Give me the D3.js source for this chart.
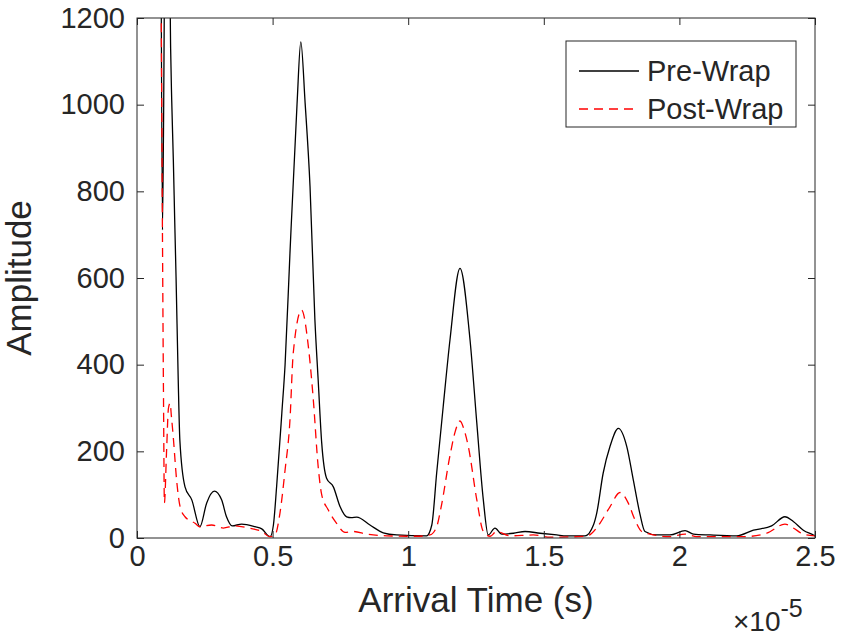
<!DOCTYPE html>
<html lang="en">
<head>
<meta charset="utf-8">
<title>Pre-Wrap vs Post-Wrap</title>
<script src="https://d3js.org/d3.v7.min.js"></script>
<style>
  body { margin: 0; background: #fff; }
  svg text { font-family: "Liberation Sans", Arial, Helvetica, sans-serif; fill: #262626; }
</style>
</head>
<body>
<script>
// arrival time in units of 1e-5 s, amplitude
var preTime = [0.088, 0.094, 0.105, 0.118, 0.124, 0.128, 0.134, 0.139, 0.144, 0.152, 0.158, 0.177,
  0.202, 0.232, 0.257, 0.285, 0.312, 0.330, 0.351, 0.386, 0.435, 0.460, 0.491, 0.503, 0.515, 0.534,
  0.546, 0.564, 0.590, 0.604, 0.620, 0.638, 0.656, 0.668, 0.681, 0.699, 0.724, 0.749, 0.773, 0.790,
  0.810, 0.859, 0.908, 0.957, 1.068, 1.087, 1.105, 1.129, 1.154, 1.191, 1.228, 1.253, 1.277, 1.295,
  1.320, 1.345, 1.388, 1.431, 1.486, 1.548, 1.584, 1.652, 1.683, 1.695, 1.719, 1.744, 1.775, 1.806,
  1.830, 1.854, 1.873, 1.916, 1.965, 2.021, 2.052, 2.113, 2.211, 2.273, 2.340, 2.389, 2.420, 2.457,
  2.494, 2.500];
var preWrap = [1500, 711, 1500, 1500, 1130, 1010, 872, 734, 602, 365, 226, 118,
  88, 26, 81, 108, 88, 49, 28, 32, 26, 21, 3, 30, 120, 288,
  400, 657, 1000, 1145, 1003, 811, 503, 365, 220, 138, 118, 72, 49, 47,
  48, 30, 12, 7, 5, 30, 150, 303, 457, 622, 457, 265, 88, 7,
  23, 9, 11, 15, 11, 7, 5, 5, 30, 57, 150, 211, 253, 211,
  134, 57, 15, 7, 7, 17, 9, 7, 5, 18, 28, 49, 38, 18,
  7, 5];

var postTime = [0.087, 0.094, 0.098, 0.101, 0.109, 0.116, 0.122, 0.127, 0.134, 0.146, 0.159, 0.177,
  0.214, 0.232, 0.275, 0.318, 0.361, 0.410, 0.460, 0.490, 0.509, 0.527, 0.546, 0.564, 0.576, 0.607,
  0.632, 0.650, 0.668, 0.681, 0.705, 0.736, 0.767, 0.798, 0.847, 0.921, 1.031, 1.080, 1.105, 1.121,
  1.154, 1.173, 1.191, 1.206, 1.222, 1.253, 1.277, 1.302, 1.326, 1.375, 1.461, 1.523, 1.658, 1.677,
  1.707, 1.744, 1.781, 1.812, 1.836, 1.861, 1.892, 1.965, 2.021, 2.064, 2.236, 2.322, 2.389, 2.420,
  2.457, 2.500];
var postWrap = [1500, 688, 300, 81, 200, 300, 311, 280, 231, 134, 72, 49,
  34, 26, 30, 23, 28, 23, 15, 3, 7, 57, 157, 272, 426, 526,
  441, 320, 165, 100, 65, 34, 13, 15, 9, 5, 4, 7, 26, 70,
  190, 245, 270, 250, 210, 88, 15, 4, 15, 5, 7, 2, 4, 11,
  34, 72, 105, 80, 42, 15, 9, 3, 9, 3, 3, 11, 32, 23,
  9, 5];

var xTicks = [0, 0.5, 1, 1.5, 2, 2.5];
var yTicks = [0, 200, 400, 600, 800, 1000, 1200];
var seriesNames = ["Pre-Wrap", "Post-Wrap"];

var W = 845, H = 639;
var margin = {top: 18, right: 30, bottom: 101, left: 137};
var width = W - margin.left - margin.right,
    height = H - margin.top - margin.bottom;
var axisColor = "#262626";

var svg = d3.select("body").append("svg")
    .attr("width", W)
    .attr("height", H);

var g = svg.append("g")
    .attr("transform", "translate(" + margin.left + "," + margin.top + ")");

var x = d3.scaleLinear().domain([0, 2.5]).range([0, width]);
var y = d3.scaleLinear().domain([0, 1200]).range([height, 0]);

svg.append("defs").append("clipPath").attr("id", "plotclip")
  .append("rect").attr("width", width).attr("height", height);

var line = d3.line()
    .x(function(d) { return x(d[0]); })
    .y(function(d) { return y(d[1]); })
    .curve(d3.curveMonotoneX);

var plot = g.append("g").attr("clip-path", "url(#plotclip)");

plot.append("path")
    .datum(d3.zip(preTime, preWrap))
    .attr("fill", "none")
    .attr("stroke", "#000")
    .attr("stroke-width", 1.3)
    .attr("d", line);

plot.append("path")
    .datum(d3.zip(postTime, postWrap))
    .attr("fill", "none")
    .attr("stroke", "#ff0000")
    .attr("stroke-width", 1.3)
    .attr("stroke-dasharray", "9,6")
    .attr("d", line);

// axes, ticks pointing inward on all four sides
function styleAxis(sel) {
  sel.select(".domain").remove();
  sel.selectAll(".tick line").attr("stroke", axisColor).attr("stroke-width", 1);
  sel.selectAll(".tick text").attr("font-size", "29px").attr("fill", axisColor);
}

g.append("g")
    .attr("transform", "translate(0," + height + ")")
    .call(d3.axisBottom(x).tickValues(xTicks).tickSizeInner(-7).tickSizeOuter(0).tickPadding(7)
      .tickFormat(d3.format("")))
    .call(styleAxis);

g.append("g")
    .call(d3.axisTop(x).tickValues(xTicks).tickSizeInner(-7).tickSizeOuter(0).tickFormat(""))
    .call(styleAxis);

g.append("g")
    .call(d3.axisLeft(y).tickValues(yTicks).tickSizeInner(-7).tickSizeOuter(0).tickPadding(12)
      .tickFormat(d3.format("d")))
    .call(styleAxis);

g.append("g")
    .attr("transform", "translate(" + width + ",0)")
    .call(d3.axisRight(y).tickValues(yTicks).tickSizeInner(-7).tickSizeOuter(0).tickFormat(""))
    .call(styleAxis);

g.append("rect")
    .attr("width", width).attr("height", height)
    .attr("fill", "none").attr("stroke", axisColor).attr("stroke-width", 1);

// axis labels
g.append("text")
    .attr("x", width / 2).attr("y", height + 74)
    .attr("text-anchor", "middle")
    .attr("font-size", "35px")
    .text("Arrival Time (s)");

g.append("text")
    .attr("transform", "translate(-106," + (height / 2) + ") rotate(-90)")
    .attr("text-anchor", "middle")
    .attr("font-size", "35px")
    .text("Amplitude");

var expo = g.append("text")
    .attr("x", width - 82).attr("y", height + 93)
    .attr("font-size", "28px");
expo.append("tspan").text("\u00d710");
expo.append("tspan").attr("dy", -14).attr("font-size", "25px").text("-5");

// legend
var legend = g.append("g").attr("transform", "translate(" + (x(2.5) - 249) + ",23)");
legend.append("rect")
    .attr("width", 230).attr("height", 86)
    .attr("fill", "#fff").attr("stroke", axisColor).attr("stroke-width", 1);

var legendStyles = [{stroke: "#000", dash: null}, {stroke: "#ff0000", dash: "9,6"}];
seriesNames.forEach(function(name, i) {
  var yy = 30 + i * 38;
  legend.append("line")
      .attr("x1", 13).attr("x2", 73).attr("y1", yy).attr("y2", yy)
      .attr("stroke", legendStyles[i].stroke)
      .attr("stroke-width", 1.3)
      .attr("stroke-dasharray", legendStyles[i].dash);
  legend.append("text")
      .attr("x", 81).attr("y", yy + 10)
      .attr("font-size", "29px")
      .text(name);
});
</script>
</body>
</html>
